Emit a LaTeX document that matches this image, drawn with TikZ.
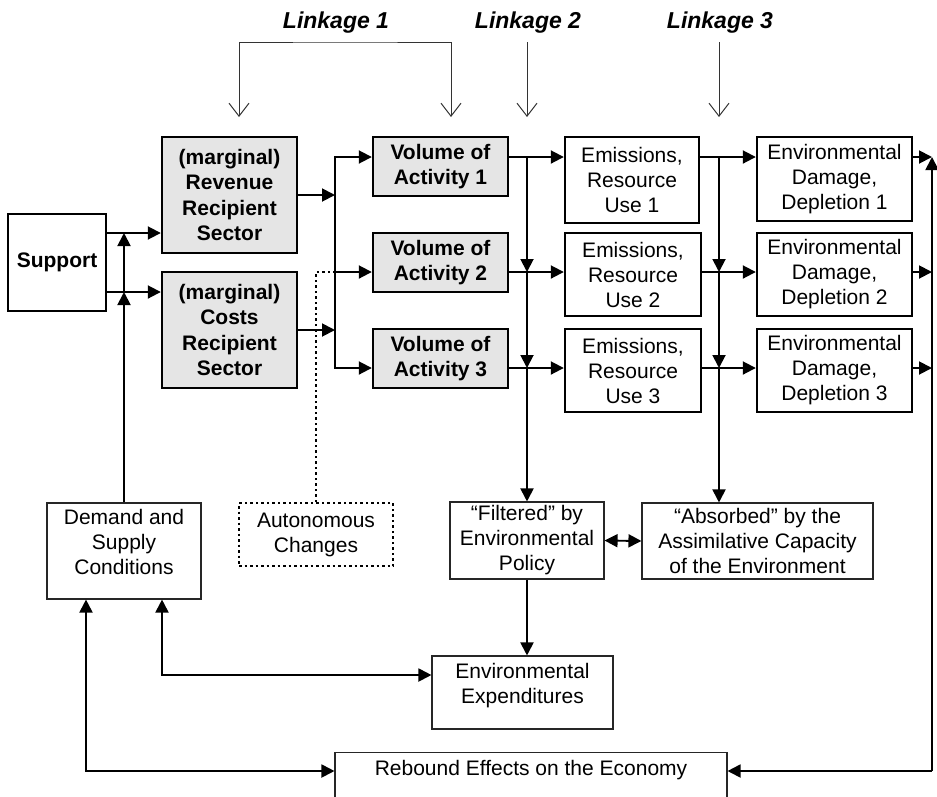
\documentclass[tikz,border=0pt]{standalone}
\usepackage{fontspec}
\setmainfont{Liberation Sans}
\usetikzlibrary{arrows.meta,positioning}

\begin{document}
\begin{tikzpicture}[x=1pt,y=-1pt,
  font=\fontsize{21}{25}\selectfont,
  heavybox/.style={draw,line width=2.4pt,align=center,inner sep=0pt},
  shaded/.style={heavybox,fill=black!10,font=\fontsize{21}{25.5}\selectfont\bfseries},
  plainbox/.style={draw=black!85,line width=1.1pt,align=center,inner sep=0pt},
  dotbox/.style={draw,line width=1.8pt,dash pattern=on 2.5pt off 3pt,align=center,inner sep=0pt},
  arr/.style={line width=1.9pt,-{Triangle[length=13pt,width=13pt]}},
  dblarr/.style={line width=1.9pt,{Triangle[length=13pt,width=13pt]}-{Triangle[length=13pt,width=13pt]}},
  dotline/.style={line width=1.8pt,dash pattern=on 2.5pt off 3pt},
  linkarr/.style={draw=black!80,line width=1pt,-{Straight Barb[length=13pt,width=20pt]}},
  linklabel/.style={font=\fontsize{23}{27}\selectfont\bfseries\itshape,anchor=base}]
  \useasboundingbox (0,0) rectangle (937,796);
  \clip (0,0) rectangle (937,796);

  % rows and columns of the connectors
  \coordinate (r1) at (0,157);
  \coordinate (r2) at (0,272);
  \coordinate (r3) at (0,368);
  \coordinate (s1) at (0,233);
  \coordinate (s2) at (0,292);
  \coordinate (bus) at (335,0);
  \coordinate (link2) at (527,0);
  \coordinate (link3) at (719,0);
  \coordinate (back) at (932,0);
  \coordinate (ltop) at (0,42);
  \coordinate (lend) at (0,117);
  \coordinate (ex) at (162,675);
  \coordinate (rb) at (86,771);

  % linkages
  \node[linklabel] (link1lab) at (336,28) {Linkage 1};
  \node[linklabel] (link2lab) at (528,28) {Linkage 2};
  \node[linklabel] (link3lab) at (720,28) {Linkage 3};
  \coordinate (l1a) at (239,117);
  \coordinate (l1b) at (451,117);
  \draw[linkarr,{Straight Barb[length=13pt,width=20pt]}-{Straight Barb[length=13pt,width=20pt]}] (l1a) |- (345,42) -| (l1b);
  \draw[linkarr] (link2 |- ltop) -- (link2 |- lend);
  \draw[linkarr] (link3 |- ltop) -- (link3 |- lend);

  % boxes
  \node[heavybox,minimum width=98pt,minimum height=97pt,font=\fontsize{21}{25}\selectfont\bfseries] (support) at (57,262.5) {Support};
  \node[shaded,minimum width=135pt,minimum height=116pt] (rev) at (229.5,195) {(marginal)\\Revenue\\Recipient\\Sector};
  \node[shaded,minimum width=135pt,minimum height=116pt] (cost) at (229.5,330) {(marginal)\\Costs\\Recipient\\Sector};
  \node[shaded,minimum width=135pt,minimum height=59pt] (vol1) at (440.5,166.5) {Volume of\\Activity 1};
  \node[shaded,minimum width=135pt,minimum height=59pt] (vol2) at (440.5,262.5) {Volume of\\Activity 2};
  \node[shaded,minimum width=135pt,minimum height=59pt] (vol3) at (440.5,358.5) {Volume of\\Activity 3};
  \node[heavybox,minimum width=134pt,minimum height=86pt] (em1) at (632,180) {Emissions,\\Resource\\Use 1};
  \node[heavybox,minimum width=136pt,minimum height=83pt] (em2) at (633,274.5) {Emissions,\\Resource\\Use 2};
  \node[heavybox,minimum width=136pt,minimum height=83pt] (em3) at (633,370.5) {Emissions,\\Resource\\Use 3};
  \node[heavybox,minimum width=155pt,minimum height=84pt] (dam1) at (834.5,179) {Environmental\\Damage,\\Depletion 1};
  \node[heavybox,minimum width=155pt,minimum height=83pt] (dam2) at (834.5,274.5) {Environmental\\Damage,\\Depletion 2};
  \node[heavybox,minimum width=155pt,minimum height=83pt] (dam3) at (834.5,370.5) {Environmental\\Damage,\\Depletion 3};

  \node[plainbox,minimum width=154pt,minimum height=96pt] (demand) at (124,551) {};
  \node[below=7pt of demand.north,inner sep=0pt,align=center] (demandtext) {Demand and\\Supply\\Conditions};
  \node[dotbox,minimum width=154pt,minimum height=63pt] (auto) at (316,534.5) {Autonomous\\Changes};
  \node[plainbox,minimum width=154pt,minimum height=77pt] (filtered) at (527,540.5) {“Filtered” by\\Environmental\\Policy};
  \node[plainbox,minimum width=231pt,minimum height=76pt] (absorbed) at (757.5,541) {“Absorbed” by the\\Assimilative Capacity\\of the Environment};
  \node[plainbox,minimum width=181pt,minimum height=73pt] (expend) at (522.5,692.5) {};
  \node[below=8pt of expend.north,inner sep=0pt,align=center] (expendtext) {Environmental\\Expenditures};
  \node[plainbox,minimum width=392pt,minimum height=80pt,anchor=north] (rebound) at (531,752) {};
  \node[below=8pt of rebound.north,inner sep=0pt] (reboundtext) {Rebound Effects on the Economy};

  % support side
  \draw[arr] (support.east |- s1) -- (rev.west |- s1);
  \draw[arr] (support.east |- s2) -- (cost.west |- s2);
  \draw[arr] (demand.north) -- (demand.north |- s2);
  \draw[arr] (demand.north |- s2) -- (demand.north |- s1);
  \draw[arr] (rev.east) -- (bus |- rev.east);
  \draw[arr] (cost.east) -- (bus |- cost.east);
  \draw[arr] (bus |- r2) |- (vol1.west |- r1);
  \draw[arr] (bus |- r2) |- (vol3.west |- r3);
  \draw[arr] (bus |- r2) -- (vol2.west |- r2);
  \draw[dotline] (auto.north) |- (bus |- r2);

  % the three rows
  \foreach \i in {1,2,3} {
    \draw[arr] (vol\i.east |- r\i) -- (em\i.west |- r\i);
    \draw[arr] (em\i.east |- r\i) -- (dam\i.west |- r\i);
    \draw[arr] (dam\i.east |- r\i) -- (back |- r\i);
  }
  \draw[arr] (link2 |- r1) -- (link2 |- r2);
  \draw[arr] (link2 |- r2) -- (link2 |- r3);
  \draw[arr] (link2 |- r3) -- (filtered.north);
  \draw[arr] (link3 |- r1) -- (link3 |- r2);
  \draw[arr] (link3 |- r2) -- (link3 |- r3);
  \draw[arr] (link3 |- r3) -- (link3 |- absorbed.north);

  % feedback
  \draw[dblarr] (filtered.east) -- (absorbed.west);
  \draw[arr] (filtered.south) -- (filtered.south |- expend.north);
  \draw[dblarr] (demand.south -| ex) |- (expend.west |- ex);
  \draw[dblarr] (demand.south -| rb) |- (rebound.west |- rb);
  \draw[arr] (back |- rb) -- (back |- r1);
  \draw[arr] (back |- rb) -- (rebound.east |- rb);
\end{tikzpicture}
\end{document}
